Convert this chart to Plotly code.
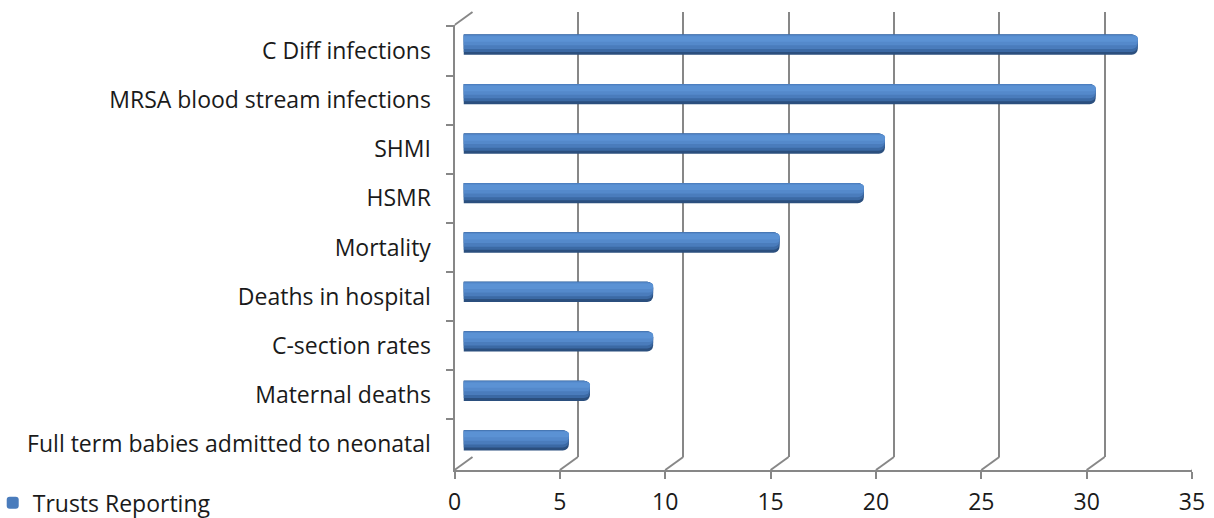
import plotly.graph_objects as go

# Data (top to bottom as displayed)
categories = [
    "C Diff infections",
    "MRSA blood stream infections",
    "SHMI",
    "HSMR",
    "Mortality",
    "Deaths in hospital",
    "C-section rates",
    "Maternal deaths",
    "Full term babies admitted to neonatal",
]
trusts_reporting = [32, 30, 20, 19, 15, 9, 9, 6, 5]
x_ticks = [0, 5, 10, 15, 20, 25, 30, 35]
series_name = "Trusts Reporting"

W, H = 1214, 518
GRID = "#878787"
FONT = dict(family="Open Sans, Calibri, sans-serif", size=23, color="#1a1a1a")

# pixel geometry of the 3-D frame (front plane, bar plane, back wall)
front_x = (454.5, 1192.0)
front_y = (470.0, 25.0)
depth_dx, depth_dy = 18.0, 13.0
bar_dx, bar_dy = 9.0, 5.0


def xdom(x0, x1):
    return [x0 / W, x1 / W]


def ydom(ybot, ytop):
    return [1 - ybot / H, 1 - ytop / H]


fig = go.Figure()

# front plane: holds the category labels and the value axis
fig.add_trace(go.Scatter(
    x=trusts_reporting, y=categories, mode="markers",
    marker=dict(opacity=0), hoverinfo="skip", showlegend=False,
    xaxis="x", yaxis="y",
))

# back wall: carries the vertical gridlines
fig.add_trace(go.Scatter(
    x=trusts_reporting, y=categories, mode="markers",
    marker=dict(opacity=0), hoverinfo="skip", showlegend=False,
    xaxis="x2", yaxis="y2",
))

# cylinders, built up from overlaid bars of the same values
layers = [
    dict(color="#2b4f7e", offset=-0.205, width=0.41, legend=False),
    dict(color="#3b69a4", offset=-0.205, width=0.35, legend=False),
    dict(color="#4a7cbc", offset=-0.205, width=0.29, legend=True),
    dict(color="#5489cb", offset=-0.19, width=0.20, legend=False),
    dict(color="#5b92d4", offset=-0.17, width=0.11, legend=False),
]
for lay in layers:
    fig.add_trace(go.Bar(
        x=trusts_reporting, y=categories, orientation="h",
        name=series_name, showlegend=lay["legend"],
        marker=dict(color=lay["color"], line=dict(width=0), cornerradius=6),
        offset=lay["offset"], width=lay["width"],
        xaxis="x3", yaxis="y3",
    ))

hidden = dict(showgrid=False, zeroline=False, showline=False,
              showticklabels=False, ticks="", automargin=False)

fig.update_layout(
    width=W, height=H,
    margin=dict(l=0, r=0, t=0, b=0, autoexpand=False),
    paper_bgcolor="white", plot_bgcolor="rgba(0,0,0,0)",
    barmode="overlay",
    font=FONT,
    xaxis=dict(
        domain=xdom(*front_x), range=[0, 35], anchor="y",
        tickvals=x_ticks, ticks="outside", ticklen=7, tickwidth=2,
        tickcolor=GRID, showline=True, linecolor=GRID, linewidth=2,
        showgrid=False, zeroline=False, ticklabelstandoff=3,
        tickfont=FONT, automargin=False,
    ),
    yaxis=dict(
        domain=ydom(*front_y), anchor="x", type="category",
        categoryorder="array", categoryarray=categories,
        autorange="reversed", tickson="boundaries",
        ticks="outside", ticklen=7, tickwidth=2, tickcolor=GRID,
        showline=True, linecolor=GRID, linewidth=2,
        showgrid=False, zeroline=False, ticklabelstandoff=17,
        tickfont=FONT, automargin=False,
    ),
    xaxis2=dict(
        domain=xdom(front_x[0] + depth_dx, front_x[1] + depth_dx),
        range=[-0.001, 35.001], anchor="y2", tickvals=x_ticks,
        showgrid=True, gridcolor=GRID, gridwidth=2,
        zeroline=False, showline=False, showticklabels=False, ticks="",
        automargin=False,
    ),
    yaxis2=dict(
        domain=ydom(front_y[0] - depth_dy, front_y[1] - depth_dy),
        anchor="x2", type="category", categoryorder="array",
        categoryarray=categories, autorange="reversed", **hidden,
    ),
    xaxis3=dict(
        domain=xdom(front_x[0] + bar_dx, front_x[1] + bar_dx),
        range=[0, 35], anchor="y3", **hidden,
    ),
    yaxis3=dict(
        domain=ydom(front_y[0] - bar_dy, front_y[1] - bar_dy),
        anchor="x3", type="category", categoryorder="array",
        categoryarray=categories, autorange="reversed", **hidden,
    ),
    legend=dict(
        x=-0.006, y=-0.012, xanchor="left", yanchor="bottom",
        font=FONT, bgcolor="rgba(0,0,0,0)",
        itemwidth=30, tracegroupgap=0,
    ),
)

# receding floor edges at each value tick, plus the top edge of the side wall
floor_bottom = ydom(*front_y)[0]
side_top = ydom(*front_y)[1]
for v in x_ticks:
    fig.add_shape(
        type="line", xref="x", yref="paper",
        xsizemode="pixel", ysizemode="pixel",
        xanchor=v, yanchor=floor_bottom,
        x0=0, x1=depth_dx, y0=0, y1=depth_dy,
        line=dict(color=GRID, width=2), layer="below",
    )
fig.add_shape(
    type="line", xref="x", yref="paper",
    xsizemode="pixel", ysizemode="pixel",
    xanchor=0, yanchor=side_top,
    x0=0, x1=depth_dx, y0=0, y1=depth_dy,
    line=dict(color=GRID, width=2), layer="below",
)

fig.write_html("out.html")
